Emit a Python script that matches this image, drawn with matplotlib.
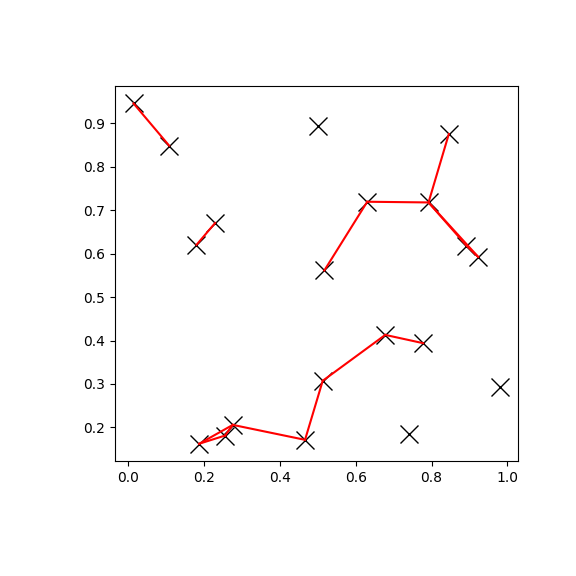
import matplotlib
matplotlib.use("Agg")
import matplotlib.pyplot as plt

x = [0.0147, 0.1087, 0.1805, 0.2297, 0.5016, 0.5174, 0.6305, 0.7920, 0.8455, 0.8920,
     0.9226, 0.1876, 0.2560, 0.2763, 0.4666, 0.5132, 0.6780, 0.7780, 0.7410, 0.9805]
y = [0.9459, 0.8486, 0.6202, 0.6706, 0.8945, 0.5612, 0.7195, 0.7179, 0.8755, 0.6186,
     0.5927, 0.1622, 0.1812, 0.2057, 0.1713, 0.3073, 0.4129, 0.3938, 0.1851, 0.2922]
edges = [(0, 1), (2, 3), (5, 6), (6, 7), (7, 8), (7, 9), (7, 10), (9, 10),
         (11, 12), (11, 13), (12, 13), (13, 14), (14, 15), (15, 16), (16, 17)]

fig = plt.figure(figsize=(5.76, 5.76), dpi=100)
ax = fig.add_axes([0.2, 0.2, 0.7, 0.65])
ax.plot(x, y, 'x', color='black', markersize=13, markeredgewidth=1.0)
for i, j in edges:
    ax.plot([x[i], x[j]], [y[i], y[j]], color='red', linewidth=1.5)
fig.savefig("out.png", dpi=100)
